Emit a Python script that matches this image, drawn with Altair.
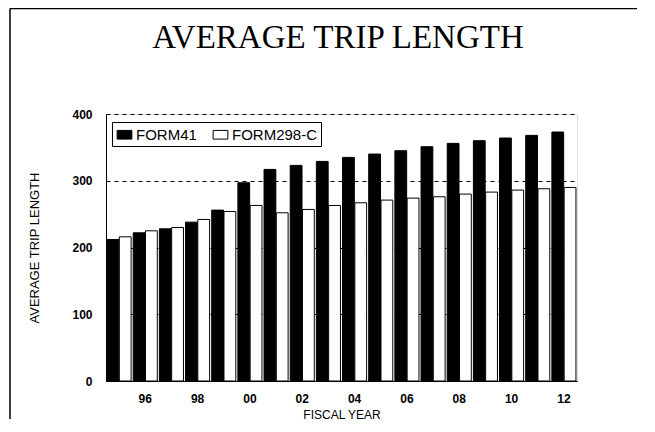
import altair as alt
import pandas as pd

years = ["95", "96", "97", "98", "99", "00", "01", "02", "03", "04", "05", "06",
         "07", "08", "09", "10", "11", "12"]
form41 = [212, 222, 228, 238, 256, 297, 317, 323, 329, 335, 340, 345, 351, 356, 360, 364, 368, 373]
form298c = [216, 225, 230, 242, 254, 263, 252, 257, 263, 267, 271, 274, 276, 280, 283, 286, 288, 290]
series = ["FORM41", "FORM298-C"]
shown_years = ["96", "98", "00", "02", "04", "06", "08", "10", "12"]
title_text = ["AVERAGE TRIP LENGTH"]

rows = []
for i, yr in enumerate(years):
    rows.append({"year": yr, "series": series[0], "value": form41[i]})
    rows.append({"year": yr, "series": series[1], "value": form298c[i]})
df = pd.DataFrame(rows)

SANS = "Liberation Sans"

bars = alt.Chart(df).mark_bar(stroke="black", strokeWidth=1).encode(
    x=alt.X("year:N", sort=years,
            scale=alt.Scale(paddingInner=0.08, paddingOuter=0.04),
            axis=alt.Axis(values=shown_years, title="FISCAL YEAR", labelAngle=0,
                          ticks=False, domain=True, domainColor="black",
                          labelFont=SANS, labelFontSize=12, labelFontWeight="bold",
                          labelColor="black", labelPadding=12,
                          titleFont=SANS, titleFontSize=12, titleFontWeight="normal",
                          titleColor="black", titlePadding=5, grid=False)),
    xOffset=alt.XOffset("series:N", sort=series, scale=alt.Scale(paddingInner=0.04, paddingOuter=0)),
    y=alt.Y("value:Q", scale=alt.Scale(domain=[0, 400]),
            axis=alt.Axis(values=[0, 100, 200, 300, 400], title="AVERAGE TRIP LENGTH",
                          ticks=False, domainColor="black",
                          labelFont=SANS, labelFontSize=12, labelFontWeight="bold",
                          labelColor="black", labelPadding=14,
                          titleFont=SANS, titleFontSize=13, titleFontWeight="normal",
                          titleColor="black", titlePadding=30,
                          grid=True, gridColor="black", gridDash=[4, 4], gridWidth=1,
                          gridOpacity=1)),
    color=alt.Color("series:N", sort=series,
                    scale=alt.Scale(domain=series, range=["black", "white"]),
                    legend=alt.Legend(title=None, orient="none", legendX=6, legendY=8,
                                      direction="horizontal",
                                      symbolType="M-0.85,-0.5H0.85V0.5H-0.85Z",
                                      symbolSize=300, symbolStrokeColor="black",
                                      symbolStrokeWidth=1, labelFont=SANS, labelFontSize=15,
                                      labelColor="black", strokeColor="black",
                                      padding=3, columnPadding=14, labelOffset=2,
                                      fillColor="white")),
)

title = alt.Chart(pd.DataFrame({"t": title_text})).mark_text(
    font="Liberation Serif", fontSize=33, color="black", align="center", baseline="alphabetic"
).encode(text="t:N", x=alt.value(232), y=alt.value(-66))

frame_left = alt.Chart(pd.DataFrame({"k": [0]})).mark_rule(color="black", strokeWidth=1.5).encode(
    x=alt.value(-96), y=alt.value(-105.5), y2=alt.value(305))
frame_top = alt.Chart(pd.DataFrame({"k": [0]})).mark_rule(color="black", strokeWidth=1.5).encode(
    y=alt.value(-105.5), x=alt.value(-96), x2=alt.value(531))

chart = alt.layer(bars, title, frame_left, frame_top).properties(
    width=471, height=267,
    autosize=alt.AutoSizeParams(type="none"),
    padding={"left": 98, "top": 106, "right": 60, "bottom": 40},
).configure_view(stroke="black", strokeWidth=1).configure(background="white")

chart.save("out.html", embed_options={"renderer": "svg", "actions": False})
